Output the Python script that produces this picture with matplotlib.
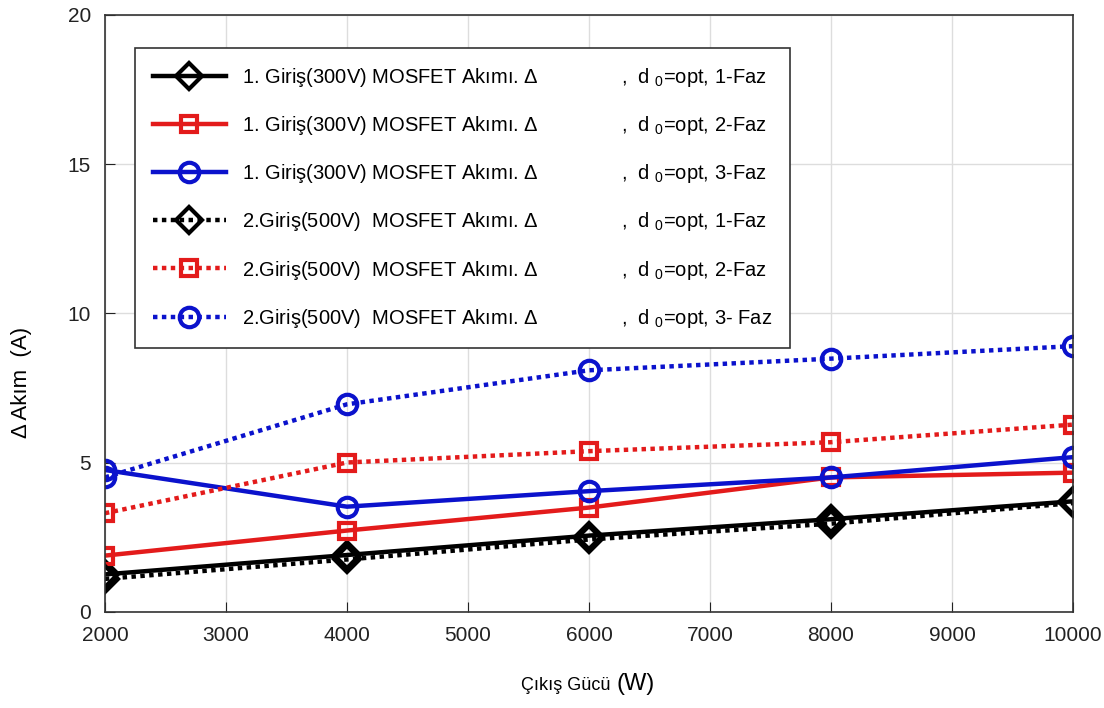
import numpy as np
import matplotlib.pyplot as plt

plt.rcParams['font.family'] = ['Liberation Sans', 'DejaVu Sans']
plt.rcParams['mathtext.fontset'] = 'custom'
plt.rcParams['mathtext.rm'] = 'Liberation Sans'
plt.rcParams['mathtext.it'] = 'Liberation Sans'

# output power (W)
guc = [2000, 4000, 6000, 8000, 10000]

# MOSFET current ripple (A)
g1_faz1 = [1.25, 1.9, 2.55, 3.1, 3.7]
g1_faz2 = [1.88, 2.72, 3.49, 4.5, 4.66]
g1_faz3 = [4.75, 3.52, 4.04, 4.5, 5.18]
g2_faz1 = [1.1, 1.75, 2.42, 2.95, 3.64]
g2_faz2 = [3.3, 5.0, 5.38, 5.68, 6.27]
g2_faz3 = [4.5, 6.95, 8.09, 8.48, 8.9]

kirmizi = '#e31b1b'
mavi = '#0b12cc'

gap = '               '
labels = [
    '1. Giriş(300V) MOSFET Akımı. Δ' + gap + r',  d $_0$=opt, 1-Faz',
    '1. Giriş(300V) MOSFET Akımı. Δ' + gap + r',  d $_0$=opt, 2-Faz',
    '1. Giriş(300V) MOSFET Akımı. Δ' + gap + r',  d $_0$=opt, 3-Faz',
    '2.Giriş(500V)  MOSFET Akımı. Δ' + gap + r',  d $_0$=opt, 1-Faz',
    '2.Giriş(500V)  MOSFET Akımı. Δ' + gap + r',  d $_0$=opt, 2-Faz',
    '2.Giriş(500V)  MOSFET Akımı. Δ' + gap + r',  d $_0$=opt, 3- Faz',
]

fig = plt.figure(figsize=(11.04, 7.08), dpi=100)
ax = fig.add_axes([0.095, 0.136, 0.877, 0.843])

dot = (0, (1, 1))
lw = 3.2
ax.plot(guc, g1_faz1, color='black', lw=lw, marker='D', ms=13, mew=3, mfc='none', label=labels[0])
ax.plot(guc, g1_faz2, color=kirmizi, lw=lw, marker='s', ms=11, mew=3, mfc='none', label=labels[1])
ax.plot(guc, g1_faz3, color=mavi, lw=lw, marker='o', ms=14, mew=3, mfc='none', label=labels[2])
ax.plot(guc, g2_faz1, color='black', lw=lw, ls=dot, marker='D', ms=13, mew=3, mfc='none', label=labels[3])
ax.plot(guc, g2_faz2, color=kirmizi, lw=lw, ls=dot, marker='s', ms=11, mew=3, mfc='none', label=labels[4])
ax.plot(guc, g2_faz3, color=mavi, lw=lw, ls=dot, marker='o', ms=14, mew=3, mfc='none', label=labels[5])

ax.set_xlim(2000, 10000)
ax.set_ylim(0, 20)
ax.set_xticks(np.arange(2000, 10001, 1000))
ax.set_yticks([0, 5, 10, 15, 20])
ax.grid(True, color='#dddddd', lw=1)
ax.tick_params(direction='in', length=7, labelsize=15, colors='#222222', pad=10)
for s in ax.spines.values():
    s.set_color('#333333')
    s.set_linewidth(1.2)

leg = ax.legend(loc='upper left', bbox_to_anchor=(0.031, 0.945), borderaxespad=0,
                fontsize=14.5, handlelength=3.6, labelspacing=1.25, borderpad=0.9,
                fancybox=False, framealpha=1, edgecolor='#333333')
leg.get_frame().set_linewidth(1.2)

fig.text(0.553, 0.02, 'Çıkış Gücü', fontsize=13, ha='right', va='bottom')
fig.text(0.558, 0.018, '(W)', fontsize=17, ha='left', va='bottom')
fig.text(0.01, 0.46, 'Δ Akım  (A)', fontsize=16, rotation=90, ha='left', va='center')

fig.savefig('out.png', dpi=100)
